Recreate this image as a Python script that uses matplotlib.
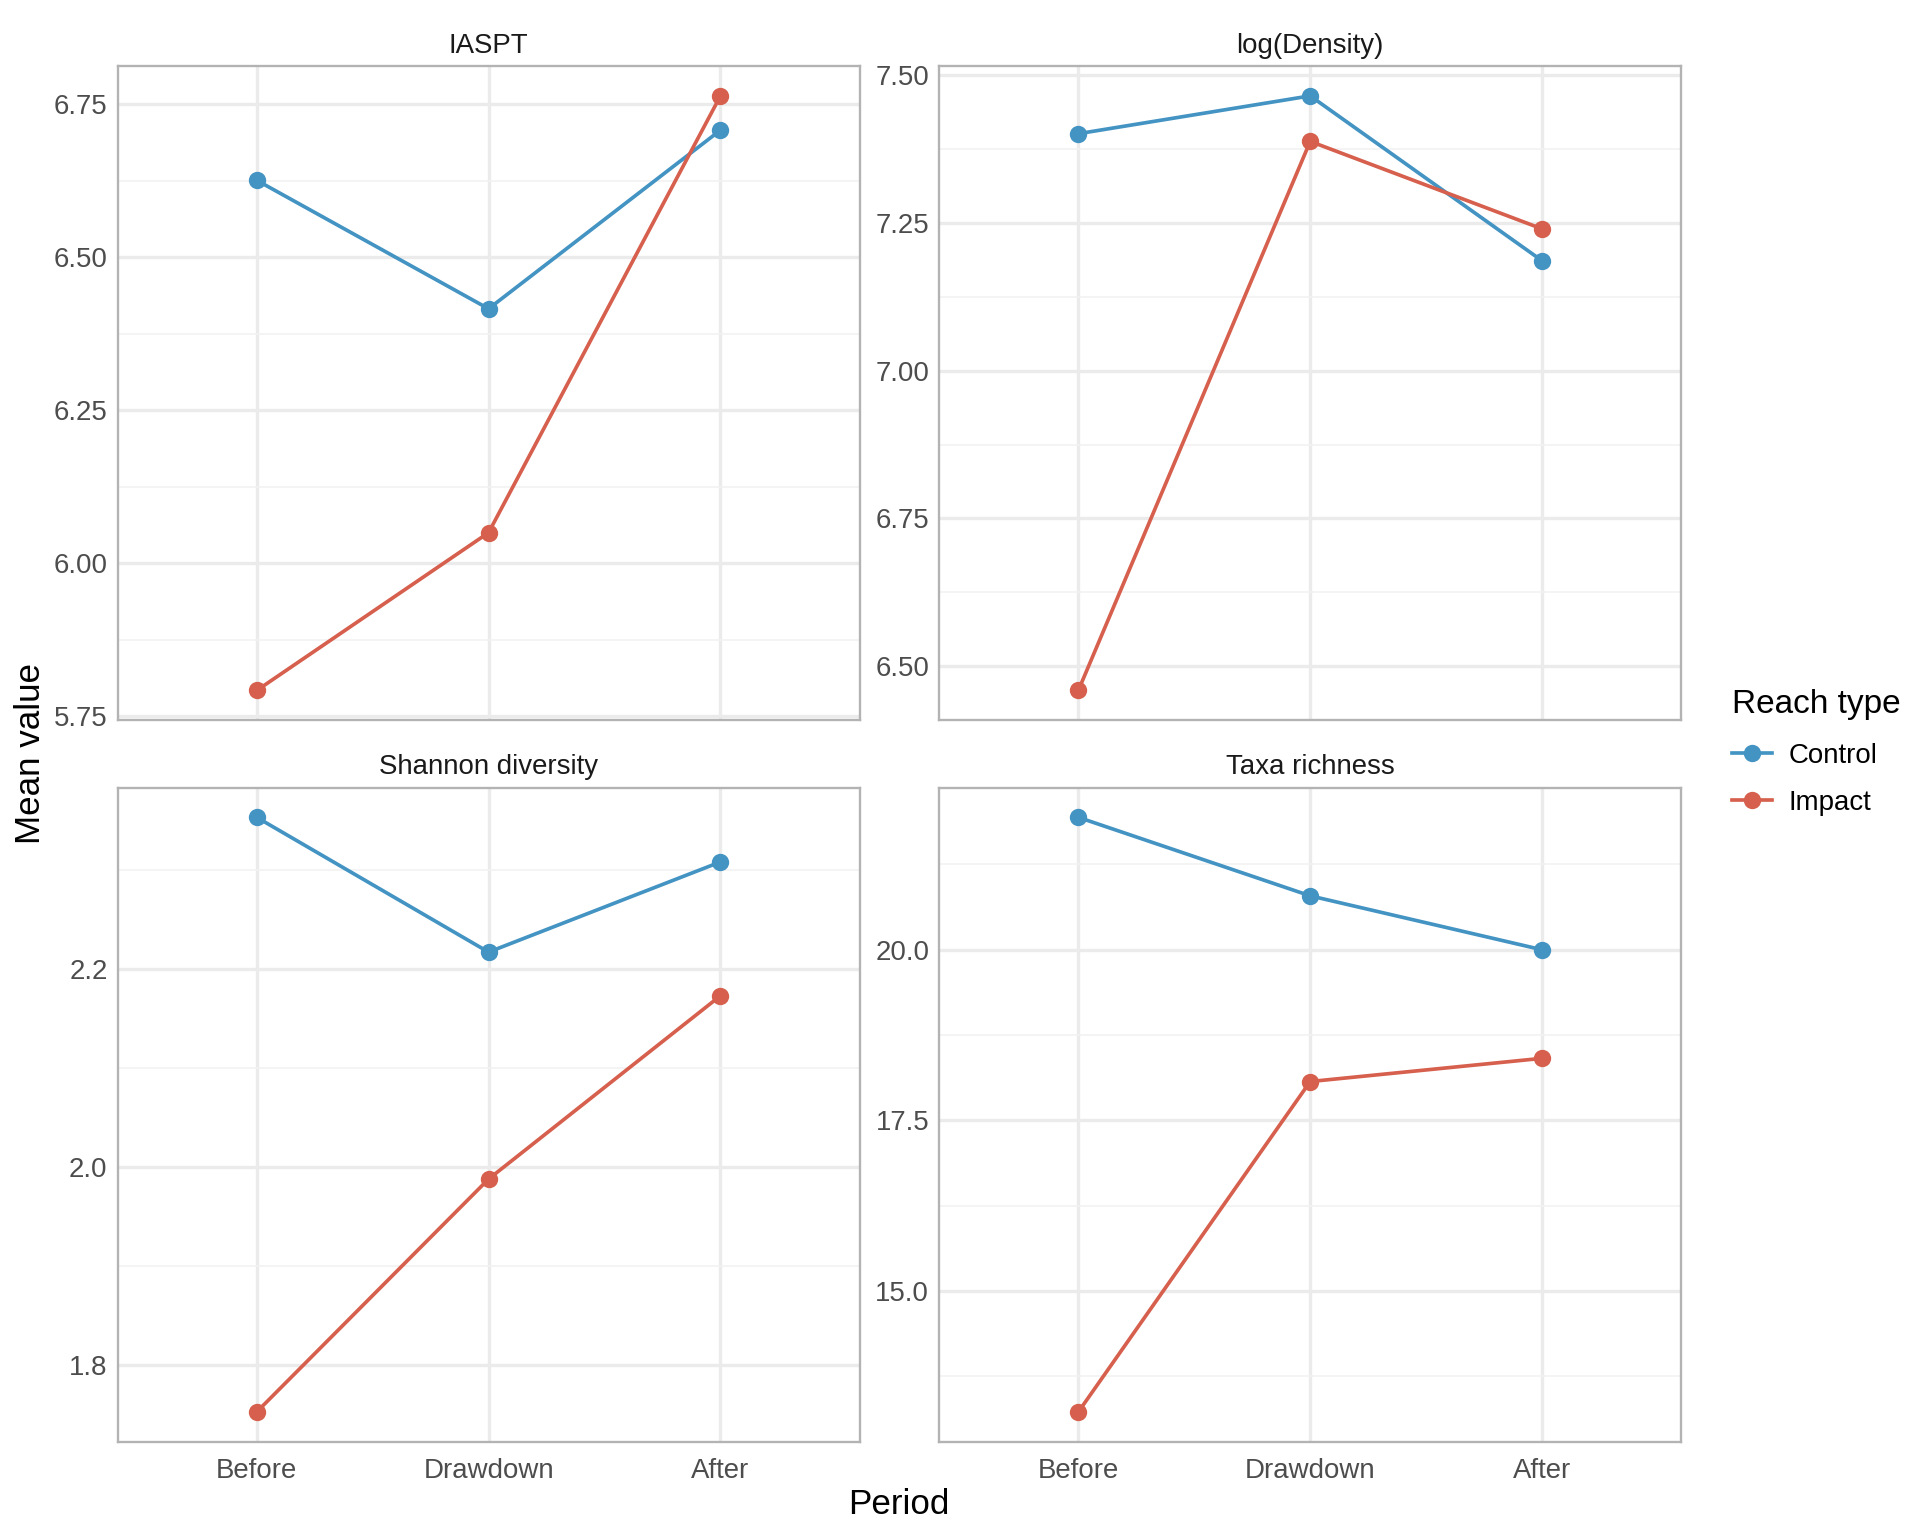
import numpy as np
import matplotlib
matplotlib.use("Agg")
from matplotlib import pyplot as plt
from matplotlib.lines import Line2D
from matplotlib.ticker import MultipleLocator

plt.rcParams['font.family'] = ['Liberation Sans', 'DejaVu Sans']

periods = ['Before', 'Drawdown', 'After']
groups = ['Control', 'Impact']
colors = {'Control': '#4393C3', 'Impact': '#D6604D'}

metrics = ['IASPT', 'log(Density)', 'Shannon diversity', 'Taxa richness']

iaspt_control = [6.626, 6.416, 6.708]
iaspt_impact = [5.792, 6.050, 6.764]
density_control = [7.401, 7.465, 7.186]
density_impact = [6.459, 7.388, 7.240]
shannon_control = [2.353, 2.217, 2.308]
shannon_impact = [1.753, 1.988, 2.173]
taxa_control = [21.94, 20.79, 20.00]
taxa_impact = [13.23, 18.07, 18.41]

values = {
    'IASPT': (iaspt_control, iaspt_impact),
    'log(Density)': (density_control, density_impact),
    'Shannon diversity': (shannon_control, shannon_impact),
    'Taxa richness': (taxa_control, taxa_impact),
}
# major tick step and label format per facet
tick_step = {'IASPT': 0.25, 'log(Density)': 0.25, 'Shannon diversity': 0.2, 'Taxa richness': 2.5}
tick_fmt = {'IASPT': '{:.2f}', 'log(Density)': '{:.2f}', 'Shannon diversity': '{:.1f}', 'Taxa richness': '{:.1f}'}

fig = plt.figure(figsize=(8, 6.4), dpi=240)

W, H = 1568, 1254
boxes = [(96, 54), (767, 54), (96, 643), (767, 643)]
pw, ph = 606, 534

x = np.arange(len(periods))
for i, m in enumerate(metrics):
    l, t = boxes[i]
    ax = fig.add_axes([l / W, 1 - (t + ph) / H, pw / W, ph / H])
    for g, vals in zip(groups, values[m]):
        ax.plot(x, vals, color=colors[g], lw=1.1, marker='o', ms=4.2, zorder=3)
    ax.set_xlim(-0.6, 2.6)
    ax.margins(y=0.05)
    step = tick_step[m]
    ax.yaxis.set_major_locator(MultipleLocator(step))
    ax.yaxis.set_minor_locator(MultipleLocator(step / 2))
    ax.yaxis.set_major_formatter(lambda v, p, f=tick_fmt[m]: f.format(v))
    ax.set_xticks(x)
    if i >= 2:
        ax.set_xticklabels(periods)
    else:
        ax.set_xticklabels([])
    ax.grid(which='major', color='#EBEBEB', lw=1.0, zorder=0)
    ax.grid(which='minor', axis='y', color='#F2F2F2', lw=0.5, zorder=0)
    ax.set_axisbelow(True)
    ax.tick_params(which='both', length=0, labelsize=8.3, labelcolor='#4D4D4D')
    ax.tick_params(axis='x', pad=5)
    ax.tick_params(axis='y', pad=3)
    for s in ax.spines.values():
        s.set_color('#B3B3B3')
        s.set_linewidth(0.7)
    ax.set_title(m, fontsize=8.3, color='#1A1A1A', pad=4)

fig.text(734 / W, 1 - 1228 / H, 'Period', ha='center', va='center', fontsize=10.5)
fig.text(25 / W, 1 - 615 / H, 'Mean value', ha='center', va='center', rotation=90, fontsize=10.5)

handles = [Line2D([], [], color=colors[g], lw=1.1, marker='o', ms=4.2) for g in groups]
leg = fig.legend(handles, groups, title='Reach type', loc='upper left',
                 bbox_to_anchor=(1403 / W, 1 - 551 / H), frameon=False, borderpad=0,
                 fontsize=8.3, title_fontsize=10, handlelength=1.45, handletextpad=0.6,
                 labelspacing=0.75)
leg._legend_box.align = 'left'
leg._legend_box.sep = 7

fig.savefig('out.png', dpi=240, facecolor='white')
